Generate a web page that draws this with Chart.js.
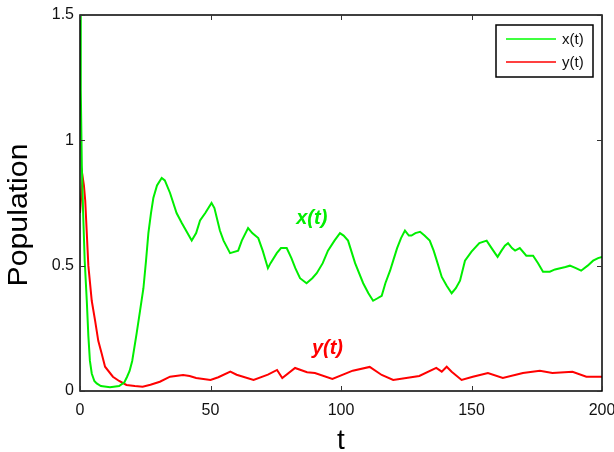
<!DOCTYPE html>
<html>
<head>
<meta charset="utf-8">
<script src="https://cdn.jsdelivr.net/npm/chart.js@4.4.0/dist/chart.umd.min.js"></script>
<style>
html,body{margin:0;padding:0;background:#fff;}
#wrap{width:614px;height:452px;}
</style>
</head>
<body>
<div id="wrap"><canvas id="c" width="614" height="452"></canvas></div>
<script>
// ---- data ----
const tX = [0,0.3,0.7,1.2,1.8,2.6,3.2,3.8,4.5,5.5,6.4,8,11.5,15,17,18,19,20,21.7,23,24.3,25.3,26.2,27.2,28.1,29.5,31.3,32.5,34.5,37,39,42.8,44.5,46,48,50.4,51.5,53.6,55,57.5,60.6,62,64.4,66,68.3,70,72,73,75.4,77,79.2,81,82.5,84.3,86.8,89,90.7,93,95,97.5,99.6,101,102.7,105.4,108.5,110.5,112.3,114,115.6,117,118.8,120,121.5,123,124.5,126,127,128.5,130.3,132,134,135.5,136.7,138.6,140.5,142.4,144,145.6,147.5,150,153,155.8,157.7,159,160,161.5,162.8,164,165.5,166.7,168.5,171,173.6,175.5,177.4,180,182,184,186,187.7,190,192,194.5,196.6,198.5,200];
const xVals = [1.5,1.2,0.9,0.71,0.52,0.36,0.22,0.12,0.07,0.04,0.03,0.02,0.015,0.02,0.035,0.056,0.08,0.12,0.23,0.32,0.41,0.52,0.63,0.71,0.77,0.82,0.85,0.84,0.79,0.71,0.67,0.60,0.63,0.68,0.71,0.75,0.73,0.64,0.60,0.55,0.56,0.60,0.65,0.63,0.61,0.56,0.49,0.51,0.55,0.57,0.57,0.53,0.49,0.45,0.43,0.45,0.47,0.51,0.56,0.60,0.63,0.62,0.60,0.51,0.43,0.39,0.36,0.37,0.38,0.43,0.48,0.52,0.57,0.61,0.64,0.62,0.62,0.63,0.635,0.62,0.60,0.56,0.52,0.455,0.42,0.39,0.41,0.44,0.52,0.556,0.59,0.60,0.57,0.55,0.535,0.56,0.58,0.59,0.57,0.56,0.57,0.54,0.54,0.51,0.476,0.476,0.485,0.49,0.495,0.50,0.49,0.48,0.50,0.52,0.53,0.535];
const tY = [0,0.5,1.0,1.5,2,3.2,4.5,5.8,7,8.3,9.6,12.6,15,17.8,21,24,27,30.6,34.5,39.5,42,44.5,50,53,57.6,60,66.5,72,75.5,77.5,82.4,87,90,96.7,104.5,111,115.6,120,130,136.5,138.6,140.5,142.4,146.2,150.5,156.3,162,169.7,176.2,181,188.7,194,200];
const yVals = [0.71,0.78,0.855,0.82,0.76,0.50,0.36,0.28,0.20,0.15,0.097,0.057,0.04,0.024,0.02,0.017,0.025,0.037,0.057,0.064,0.06,0.052,0.044,0.055,0.077,0.065,0.044,0.065,0.084,0.052,0.092,0.075,0.072,0.048,0.081,0.096,0.064,0.044,0.06,0.092,0.077,0.097,0.077,0.044,0.057,0.072,0.052,0.072,0.081,0.072,0.077,0.057,0.057];
const xTicks = [0,50,100,150,200];
const yTicks = [0,0.5,1,1.5];
const yTickLabels = ['0','0.5','1','1.5'];
const seriesNames = ['x(t)','y(t)'];
const seriesColors = ['#00ee00','#ff0000'];

const ptsX = tX.map((t,i)=>({x:t,y:xVals[i]}));
const ptsY = tY.map((t,i)=>({x:t,y:yVals[i]}));

const FONT = '"Liberation Sans", Arial, Helvetica, sans-serif';

const decor = {
  id:'decor',
  afterDraw(chart){
    const ctx = chart.ctx, a = chart.chartArea;
    const xs = chart.scales.x, ys = chart.scales.y;
    ctx.save();
    // frame
    ctx.strokeStyle = '#000'; ctx.lineWidth = 1.5;
    ctx.strokeRect(a.left, a.top, a.right-a.left, a.bottom-a.top);
    // inside ticks
    ctx.lineWidth = 1; ctx.strokeStyle = '#333';
    ctx.beginPath();
    xTicks.forEach(v=>{
      const px = Math.round(xs.getPixelForValue(v))+0.5;
      ctx.moveTo(px, a.bottom); ctx.lineTo(px, a.bottom-5);
      ctx.moveTo(px, a.top); ctx.lineTo(px, a.top+5);
    });
    yTicks.forEach(v=>{
      const py = Math.round(ys.getPixelForValue(v))+0.5;
      ctx.moveTo(a.left, py); ctx.lineTo(a.left+5, py);
      ctx.moveTo(a.right, py); ctx.lineTo(a.right-5, py);
    });
    ctx.stroke();
    // inline labels
    ctx.font = 'italic bold 20px ' + FONT;
    ctx.textAlign = 'center'; ctx.textBaseline = 'middle';
    ctx.fillStyle = seriesColors[0];
    ctx.fillText(seriesNames[0], xs.getPixelForValue(88.8), ys.getPixelForValue(0.69));
    ctx.fillStyle = seriesColors[1];
    ctx.fillText(seriesNames[1], xs.getPixelForValue(94.8), ys.getPixelForValue(0.17));
    // legend
    const lx = a.right - 106, ly = a.top + 10;
    ctx.fillStyle = '#fff';
    ctx.fillRect(lx, ly, 97, 52);
    ctx.strokeStyle = '#000'; ctx.lineWidth = 1.5;
    ctx.strokeRect(lx, ly, 97, 52);
    ctx.font = '15px ' + FONT; ctx.textAlign = 'left';
    [0,1].forEach(i=>{
      const yy = ly + 14 + i*23;
      ctx.strokeStyle = i===0 ? '#00ff00' : '#ff0000'; ctx.lineWidth = 1.5;
      ctx.beginPath(); ctx.moveTo(lx+10, yy); ctx.lineTo(lx+60, yy); ctx.stroke();
      ctx.fillStyle = '#111';
      ctx.fillText(seriesNames[i], lx+66, yy+1);
    });
    // axis titles
    ctx.fillStyle = '#000';
    ctx.font = '28px ' + FONT;
    ctx.textAlign = 'center'; ctx.textBaseline = 'alphabetic';
    ctx.fillText('t', (a.left+a.right)/2, 449);
    ctx.save();
    ctx.translate(27, 215);
    ctx.rotate(-Math.PI/2);
    ctx.scale(1.12, 1);
    ctx.font = '27px ' + FONT;
    ctx.fillText('Population', 0, 0);
    ctx.restore();
    ctx.restore();
  }
};

new Chart(document.getElementById('c'), {
  type:'line',
  data:{
    datasets:[
      {label:seriesNames[0], data:ptsX, borderColor:seriesColors[0], borderWidth:2, pointRadius:0, tension:0, fill:false},
      {label:seriesNames[1], data:ptsY, borderColor:seriesColors[1], borderWidth:2, pointRadius:0, tension:0, fill:false}
    ]
  },
  options:{
    responsive:false, animation:false, devicePixelRatio:1,
    layout:{padding:{top:15,right:12,left:0,bottom:0}},
    plugins:{legend:{display:false}, tooltip:{enabled:false}},
    scales:{
      x:{type:'linear', min:0, max:200,
         afterBuildTicks(s){ s.ticks = xTicks.map(v=>({value:v})); },
         afterFit(s){ s.height = 61; s.paddingLeft = 0; s.paddingRight = 0; },
         grid:{display:false, drawTicks:false}, border:{display:false},
         ticks:{padding:10, color:'#111', font:{family:FONT, size:16}, maxRotation:0}},
      y:{type:'linear', min:0, max:1.5,
         afterBuildTicks(s){ s.ticks = yTicks.map(v=>({value:v})); },
         afterFit(s){ s.width = 80; s.paddingTop = 0; s.paddingBottom = 0; },
         grid:{display:false, drawTicks:false}, border:{display:false},
         ticks:{padding:6, color:'#111', font:{family:FONT, size:16},
                callback:(v)=>{ const i = yTicks.indexOf(v); return i>=0 ? yTickLabels[i] : ''; }}}
    }
  },
  plugins:[decor]
});
</script>
</body>
</html>
